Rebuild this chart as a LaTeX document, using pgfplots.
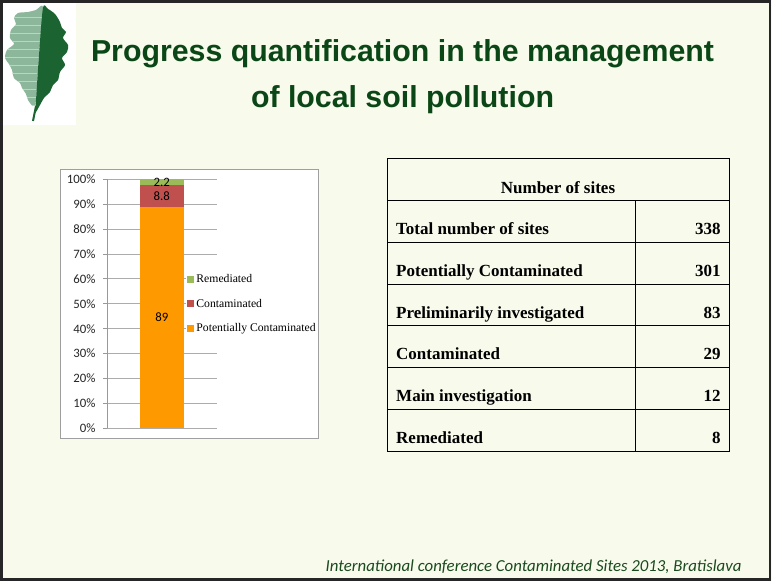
\documentclass[border=0pt]{standalone}
\usepackage{pgfplots}
\pgfplotsset{compat=1.18}
\usepackage{fontspec}
\setmainfont{Liberation Serif}
\newfontfamily\arial{Liberation Sans}
\newfontfamily\calibri{Carlito}
\definecolor{bg}{HTML}{F8FAEC}
\definecolor{titlegreen}{HTML}{0B4716}
\definecolor{footgreen}{HTML}{1A4A1E}
\definecolor{leafdark}{HTML}{1C6332}
\definecolor{leaflight}{HTML}{8DB79B}
\definecolor{potcol}{HTML}{FF9900}
\definecolor{concol}{HTML}{C0504D}
\definecolor{remcol}{HTML}{9BBB59}
\begin{document}
\begin{tikzpicture}[x=1pt,y=1pt]
\path[use as bounding box] (0,0) rectangle (772,581);
\fill[bg] (0,0) rectangle (772,581);
\begin{scope}[shift={(0,581)}, yscale=-1]
  % logo
  \fill[white] (0,0) rectangle (76,125);
  \begin{scope}
    \path[clip] plot[smooth cycle, tension=0.5] coordinates {(43,8) (36,10) (28,12) (18,13) (14,18) (16,24) (11,30) (10,38) (14,44) (7,50) (5,58) (9,64) (12,70) (14,78) (20,83) (22,88) (26,94) (28,100) (33,106) (36,100) (39,55)};
    \fill[leaflight] (0,0) rectangle (76,125);
    \foreach \yy in {18,26,...,106} { \draw[white!40!leaflight, line width=1pt] (0,\yy) -- (76,\yy); }
  \end{scope}
  \fill[leafdark] plot[smooth cycle, tension=0.5] coordinates {(43,8) (48,9) (55,14) (60,22) (62,28) (66,32) (63,38) (68,45) (67,52) (62,58) (65,65) (60,72) (58,80) (53,85) (50,92) (44,98) (40,105) (35,113) (36,100) (39,55)};
  \draw[leafdark, line width=2pt] (36,106) -- (33,121);
  % title
  \node[anchor=base, font=\arial\bfseries\fontsize{30.3}{31}\selectfont, text=titlegreen] at (402.5,62) {Progress quantification in the management};
  \node[anchor=base, font=\arial\bfseries\fontsize{30.3}{31}\selectfont, text=titlegreen] at (402.5,108) {of local soil pollution};
  % chart box
  \fill[white] (60,170) rectangle (318,439);
  % table
  \draw[black, line width=1pt] (387.3,159) rectangle (729.3,451.7);
  \foreach \yy in {201,242.7,284.3,326,367.7,409.3} { \draw[black, line width=1pt] (387.3,\yy) -- (729.3,\yy); }
  \draw[black, line width=1pt] (635,201) -- (635,451.7);
  \begin{scope}[every node/.style={font=\bfseries\fontsize{17}{18}\selectfont, inner sep=0pt}]
    \node[anchor=base] at (558,193.3) {Number of sites};
    \node[anchor=base west] at (396,235) {Total number of sites};
    \node[anchor=base west] at (396,276.6) {Potentially Contaminated};
    \node[anchor=base west] at (396,318.3) {Preliminarily investigated};
    \node[anchor=base west] at (396,360) {Contaminated};
    \node[anchor=base west] at (396,401.6) {Main investigation};
    \node[anchor=base west] at (396,443.3) {Remediated};
    \node[anchor=base east] at (720.7,235) {338};
    \node[anchor=base east] at (720.7,276.6) {301};
    \node[anchor=base east] at (720.7,318.3) {83};
    \node[anchor=base east] at (720.7,360) {29};
    \node[anchor=base east] at (720.7,401.6) {12};
    \node[anchor=base east] at (720.7,443.3) {8};
  \end{scope}
  % footer
  \node[anchor=base east, inner sep=0pt, font=\calibri\itshape\fontsize{16.8}{18}\selectfont, text=footgreen] at (741.7,572) {International conference Contaminated Sites 2013, Bratislava};
  % slide border
  \draw[black!85, line width=2.5pt] (1.5,1.5) rectangle (770.2,579.5);
\end{scope}

\begin{axis}[
  at={(107pt,152.7pt)}, anchor=south west, scale only axis,
  width=109.7pt, height=249pt,
  xmin=-1, xmax=1, ymin=0, ymax=100,
  ybar stacked, bar width=0.8,
  axis x line=none, axis y line=left,
  axis line style={draw=gray!80, -},
  ytick={0,10,...,100},
  ymajorgrids, major grid style={gray!65, line width=0.8pt},
  tick align=outside, major tick length=4pt,
  tick style={gray!80, line width=0.8pt},
  /pgf/number format/assume math mode=true,
  yticklabel={\pgfmathprintnumber{\tick}\%},
  yticklabel style={font=\calibri\fontsize{12.8}{13}\selectfont, text=black!85, xshift=-4pt},
  legend style={draw=none, fill=white, at={(0.722,0.5)}, anchor=west,
    font=\fontsize{11.7}{12}\selectfont, row sep=11pt, inner sep=1pt,
    cells={anchor=west}},
  legend image code/.code={\fill[#1] (0pt,-3.5pt) rectangle (7pt,3.5pt);},
  reverse legend,
  clip=false
]
\addplot[fill=potcol, draw=none] coordinates {(0,89)};
\addplot[fill=concol, draw=none] coordinates {(0,8.8)};
\addplot[fill=remcol, draw=none] coordinates {(0,2.2)};
\legend{Potentially Contaminated, Contaminated, Remediated}
\end{axis}

\begin{axis}[
  at={(107pt,152.7pt)}, anchor=south west, scale only axis,
  width=109.7pt, height=249pt,
  xmin=-1, xmax=1, ymin=0, ymax=100,
  hide axis, clip=false
]
\addplot[draw=none, mark=none, nodes near coords, point meta=explicit symbolic,
  nodes near coords style={anchor=center, inner sep=0pt, font=\calibri\fontsize{12.8}{13}\selectfont, text=black}]
  coordinates {(0,44.5)[89] (0,93.4)[8.8] (0,98.9)[2.2]};
\end{axis}
\begin{scope}[shift={(0,581)}, yscale=-1]
  \draw[gray!75, line width=1pt] (60,170) rectangle (318,439);
\end{scope}
\end{tikzpicture}
\end{document}
